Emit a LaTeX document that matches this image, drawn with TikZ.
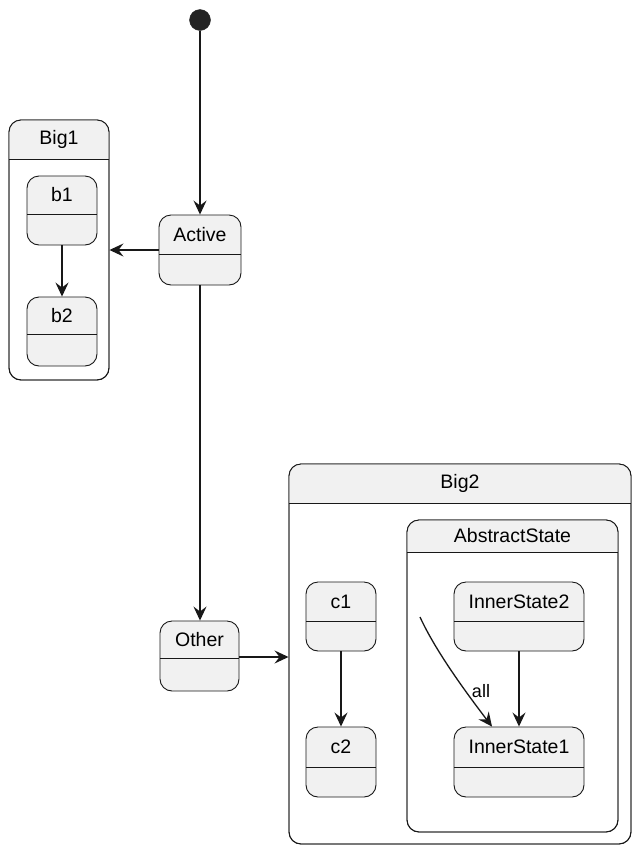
\documentclass[tikz,border=0pt]{standalone}
\usepackage{fontspec}
\setmainfont{Liberation Sans}
\usetikzlibrary{arrows.meta,calc}
\definecolor{sfill}{HTML}{F1F1F1}
\definecolor{sline}{HTML}{181818}
\definecolor{initc}{HTML}{222222}

\newcommand\sstate[7]{% name, x1, y1, x2, y2, ydiv, text
  \node[simple, minimum width={(#4-#2)*1pt}, minimum height={(#5-#3)*1pt}] (#1) at ({(#2+#4)/2},{(#3+#5)/2}) {};
  \draw[divline] (#2,#6) -- (#4,#6);
  \node[lbl] (#1-t) at ({(#2+#4)/2},{(#3+#6)/2}) {#7};
}
\newcommand\cstate[7]{% name, x1, y1, x2, y2, ydiv, text
  \node[comp, minimum width={(#4-#2)*1pt}, minimum height={(#5-#3)*1pt}] (#1) at ({(#2+#4)/2},{(#3+#5)/2}) {};
  \begin{scope}
    \clip[rounded corners=12pt] (#2,#3) rectangle (#4,#5);
    \fill[sfill] (#2,#3) rectangle (#4,#6);
  \end{scope}
  \draw[divline, rounded corners=12pt] (#2,#3) rectangle (#4,#5);
  \draw[divline] (#2,#6) -- (#4,#6);
  \node[lbl] (#1-t) at ({(#2+#4)/2},{(#3+#6)/2}) {#7};
}

\begin{document}
\begin{tikzpicture}[x=1pt,y=-1pt,
  box/.style={draw=sline, line width=0.9pt, rounded corners=12pt, inner sep=0pt, rectangle},
  simple/.style={box, fill=sfill},
  comp/.style={box, fill=white},
  divline/.style={draw=sline, line width=0.9pt},
  lbl/.style={font=\fontsize{19.5}{22}\selectfont, text=black, inner sep=0pt, anchor=center},
  elbl/.style={font=\fontsize{18}{21}\selectfont, text=black, inner sep=0pt, anchor=center},
  arr/.style={draw=sline, line width=1.3pt, -{Stealth[length=14pt,width=13pt,inset=5pt]}},
]
\useasboundingbox (0,0) rectangle (639,852);

\node[circle, fill=initc, draw=initc, minimum size=21pt, inner sep=0pt] (init) at (200,20) {};

\sstate{active}{159}{215}{241}{285}{254}{Active}

\cstate{big1}{9}{120}{109}{380}{159}{Big1}
\sstate{b1}{27}{176}{97}{245}{214}{b1}
\sstate{b2}{27}{297}{97}{366}{334}{b2}

\sstate{other}{160}{621}{239}{691}{658}{Other}

\cstate{big2}{289}{464}{631}{844}{503}{Big2}
\sstate{c1}{306}{582}{376}{651}{621}{c1}
\sstate{c2}{306}{727}{376}{797}{767}{c2}

\cstate{abs}{407}{520}{618}{832}{552}{AbstractState}
\sstate{is2}{454}{582}{584}{651}{621}{InnerState2}
\sstate{is1}{454}{727}{584}{797}{767}{InnerState1}

\draw[arr] (init) -- (active);
\draw[arr] (active.west) -- (active.west -| big1.east);
\draw[arr] (active.south) -- (active.south |- other.north);
\draw[arr] (b1) -- (b2);
\draw[arr] ([yshift=-1pt]other.east) -- ([yshift=-1pt]other.east -| big2.west);
\draw[arr] (c1) -- (c2);
\draw[arr] (is2) -- (is1);
\coordinate (allstart) at (420,617);
\draw[arr] (allstart) .. controls (436,652) and (468,695) .. ([xshift=-27pt]is1.north);
\node[elbl] (alllbl) at (481,691) {all};
\end{tikzpicture}
\end{document}
